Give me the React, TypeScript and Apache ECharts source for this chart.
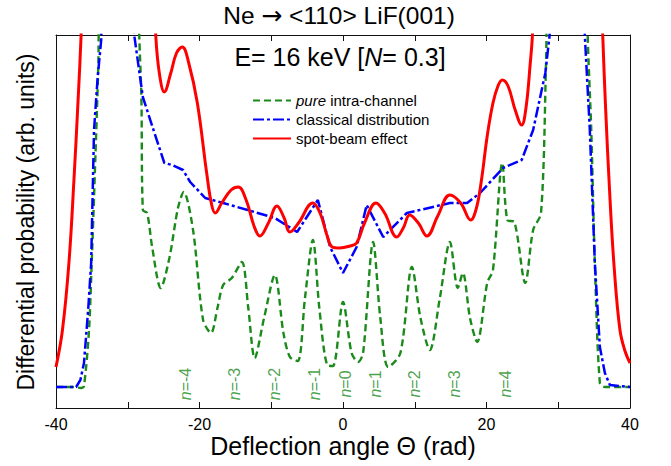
import React, { useEffect, useRef } from 'react';
import * as echarts from 'echarts';

const FONT = 'Arial, "Liberation Sans", Helvetica, sans-serif';

// x: deflection angle, y: differential probability (arb. units; 0..373 plot range)
const pureIntraChannel: [number, number][] = [
  [-40, 21], [-37.5, 21], [-36.5, 20], [-36.1, 22], [-35.4, 78], [-35.0, 150], [-34.7, 211],
  [-34.1, 345], [-33.9, 440], [-28.6, 440], [-28.4, 373], [-28.1, 311], [-27.9, 198],
  [-27.3, 195], [-26.6, 161], [-25.4, 120], [-24.2, 150], [-23.0, 200], [-22.2, 216],
  [-20.9, 178], [-19.5, 88], [-18.4, 75], [-17.5, 100], [-16.7, 123], [-15.5, 130],
  [-14.1, 146], [-13.2, 100], [-12.3, 50], [-11.0, 90], [-9.5, 133], [-8.3, 75],
  [-7.4, 51], [-6.3, 47], [-5.3, 110], [-4.2, 168], [-3.3, 100], [-2.2, 43], [-1.4, 42],
  [0, 106], [1.2, 55], [2.1, 46], [2.8, 55], [4.2, 166], [5.2, 90], [6.3, 41], [8.0, 55],
  [9.6, 141], [10.8, 90], [12.1, 58], [13.5, 110], [14.9, 166], [16.0, 120], [16.7, 135],
  [17.7, 90], [18.7, 66], [20.1, 125], [20.9, 138], [22.2, 245], [22.9, 188], [23.9, 186],
  [25.4, 125], [26.5, 178], [27.6, 195], [28.3, 345], [28.6, 440], [34.0, 440],
  [34.1, 373], [34.6, 278], [35.1, 145], [35.8, 25], [36.5, 21], [40, 21],
];

const classicalDistribution: [number, number][] = [
  [-40, 21], [-37.2, 21], [-36.6, 28], [-36.1, 45], [-35.5, 100], [-35.1, 145], [-34.7, 278],
  [-34.2, 330], [-33.7, 368], [-33.5, 440], [-29.3, 440], [-29.1, 373], [-27.9, 311],
  [-26.5, 280], [-24.9, 245], [-23.8, 243], [-22.3, 238], [-21.3, 226], [-19.2, 210],
  [-16.7, 205], [-13.3, 198], [-9.5, 190], [-6.4, 176], [-3.5, 208], [-1.8, 161], [0, 135],
  [1.9, 161], [3.3, 203], [5.6, 171], [8.9, 195], [14.9, 205], [17.3, 205], [19.1, 215],
  [22.3, 240], [24.9, 248], [26.5, 278], [28.2, 335], [28.8, 373], [29.0, 440], [33.5, 440],
  [33.7, 373], [34.4, 278], [35.1, 145], [35.8, 61], [36.5, 35], [37.2, 23], [40, 21],
];

const spotBeamEffect: [number, number][] = [
  [-40, 41], [-39.1, 78], [-38.2, 145], [-37.5, 228], [-36.9, 311], [-36.5, 373], [-36.2, 440],
  [-26.4, 440], [-26.1, 373], [-25.6, 335], [-24.9, 316], [-24.0, 335], [-23.2, 355],
  [-22.4, 361], [-21.5, 345], [-20.3, 305], [-19.0, 235], [-18.3, 203], [-17.8, 195],
  [-16.9, 205], [-15.6, 218], [-14.6, 221], [-13.5, 208], [-12.4, 182], [-11.6, 172],
  [-10.4, 185], [-9.2, 202], [-8.2, 190], [-7.4, 176], [-6.2, 185], [-4.2, 205], [-3.2, 195],
  [-2.2, 172], [-1.5, 161], [-0.5, 160], [1.0, 162], [1.9, 165], [3.0, 185], [4.6, 205],
  [5.8, 195], [7.5, 171], [8.4, 180], [9.3, 193], [10.5, 185], [11.7, 172], [13.2, 192],
  [14.9, 213], [16.4, 205], [17.8, 188], [18.6, 200], [19.3, 228], [20.1, 272], [20.9, 305],
  [21.6, 322], [22.2, 328], [23.0, 322], [24.0, 298], [24.9, 283], [25.5, 300], [26.1, 345],
  [26.4, 373], [26.7, 440], [35.9, 440], [36.2, 373], [36.6, 300], [37.2, 211], [37.8, 140],
  [38.6, 78], [39.3, 57], [40, 45],
];

const orderPositions = [-21.9, -15.1, -9.5, -4.0, 0.3, 4.5, 9.9, 15.5, 22.7];
const orderNames = ['-4', '-3', '-2', '-1', '0', '1', '2', '3', '4'];
const orderLabelY = 24;

const xTickLabels = [-40, -20, 0, 20, 40];
const seriesNames = ['pure intra-channel', 'classical distribution', 'spot-beam effect'];

const GREEN = '#1a8a1a';
const BLUE = '#0000ff';
const RED = '#ff0000';

export default function App() {
  const ref = useRef<HTMLDivElement>(null);
  useEffect(() => {
    const chart = echarts.init(ref.current!, null, { renderer: 'svg' });
    const axisLine = { show: true, onZero: false, lineStyle: { color: '#111', width: 1 } };
    chart.setOption({
      animation: false,
      backgroundColor: '#fff',
      grid: { left: 56, right: 41, top: 35, bottom: 58 },
      xAxis: [
        {
          type: 'value', min: -40, max: 40, interval: 10, position: 'bottom',
          axisLine, axisTick: { show: true, inside: true, length: 6, lineStyle: { color: '#111' } },
          axisLabel: {
            color: '#000', fontSize: 16, fontFamily: FONT, margin: 8,
            formatter: (v: number) => (xTickLabels.includes(v) ? String(v) : ''),
          },
          splitLine: { show: false },
        },
        {
          type: 'value', min: -40, max: 40, interval: 10, position: 'top',
          axisLine, axisTick: { show: true, inside: true, length: 6, lineStyle: { color: '#111' } },
          axisLabel: { show: false }, splitLine: { show: false },
        },
      ],
      yAxis: [
        { type: 'value', min: 0, max: 373, position: 'left', axisLine, axisTick: { show: false }, axisLabel: { show: false }, splitLine: { show: false } },
        { type: 'value', min: 0, max: 373, position: 'right', axisLine, axisTick: { show: false }, axisLabel: { show: false }, splitLine: { show: false } },
      ],
      legend: {
        data: seriesNames,
        orient: 'vertical',
        left: 247,
        top: 88,
        itemWidth: 38,
        itemHeight: 12,
        itemGap: 4,
        itemStyle: { opacity: 0 },
        textStyle: {
          fontSize: 15, fontFamily: FONT, color: '#000',
          rich: { i: { fontStyle: 'italic', fontSize: 15, fontFamily: FONT, color: '#000' } },
        },
        formatter: (name: string) => (name === 'pure intra-channel' ? '{i|pure} intra-channel' : name),
      },
      graphic: [
        {
          type: 'text', x: 339, y: 15,
          style: {
            text: 'Ne {a|\u2192} <110> LiF(001)', fill: '#000', fontSize: 24.5, fontFamily: FONT, align: 'center', verticalAlign: 'middle',
            rich: { a: { fontSize: 25, fontFamily: '"DejaVu Sans", sans-serif', fill: '#000' } },
          },
        },
        {
          type: 'text', x: 340, y: 57,
          style: {
            text: 'E= 16 keV [{i|N}= 0.3]', fill: '#000', fontSize: 25, fontFamily: FONT, align: 'center', verticalAlign: 'middle',
            rich: { i: { fontStyle: 'italic', fontSize: 25, fontFamily: FONT, fill: '#000' } },
          },
        },
        {
          type: 'text', x: 26, y: 222, rotation: Math.PI / 2,
          style: { text: 'Differential probability (arb. units)', fill: '#000', fontSize: 23, fontFamily: FONT, align: 'center', verticalAlign: 'middle' },
        },
        {
          type: 'text', x: 343, y: 446,
          style: { text: 'Deflection angle \u0398 (rad)', fill: '#000', fontSize: 25, fontFamily: FONT, align: 'center', verticalAlign: 'middle' },
        },
      ],
      series: [
        {
          name: seriesNames[0], type: 'line', data: pureIntraChannel, showSymbol: false, symbol: 'none',
          smooth: 0.3, clip: true,
          lineStyle: { color: GREEN, width: 2.4, type: [7, 4] }, itemStyle: { color: GREEN }, z: 2,
        },
        {
          name: seriesNames[1], type: 'line', data: classicalDistribution, showSymbol: false, symbol: 'none',
          smooth: false, clip: true,
          lineStyle: { color: BLUE, width: 2.5, type: [11, 3, 3, 3] }, itemStyle: { color: BLUE }, z: 3,
        },
        {
          name: seriesNames[2], type: 'line', data: spotBeamEffect, showSymbol: false, symbol: 'none',
          smooth: 0.4, clip: true,
          lineStyle: { color: RED, width: 3 }, itemStyle: { color: RED }, z: 4,
        },
        {
          name: 'orders', type: 'scatter', symbolSize: 1, silent: true,
          itemStyle: { color: 'rgba(0,0,0,0)' },
          data: orderPositions.map((x, i) => ({ value: [x, orderLabelY], name: orderNames[i] })),
          label: {
            show: true, position: 'inside', rotate: 90, color: GREEN, fontSize: 16, fontFamily: FONT,
            formatter: '{i|n}={b}',
            rich: { i: { fontStyle: 'italic', color: GREEN, fontSize: 16, fontFamily: FONT } },
          },
          z: 5,
        },
      ],
    });
    return () => chart.dispose();
  }, []);
  return <div ref={ref} style={{ position: 'absolute', left: 0, top: 0, width: 671, height: 466 }} />;
}
